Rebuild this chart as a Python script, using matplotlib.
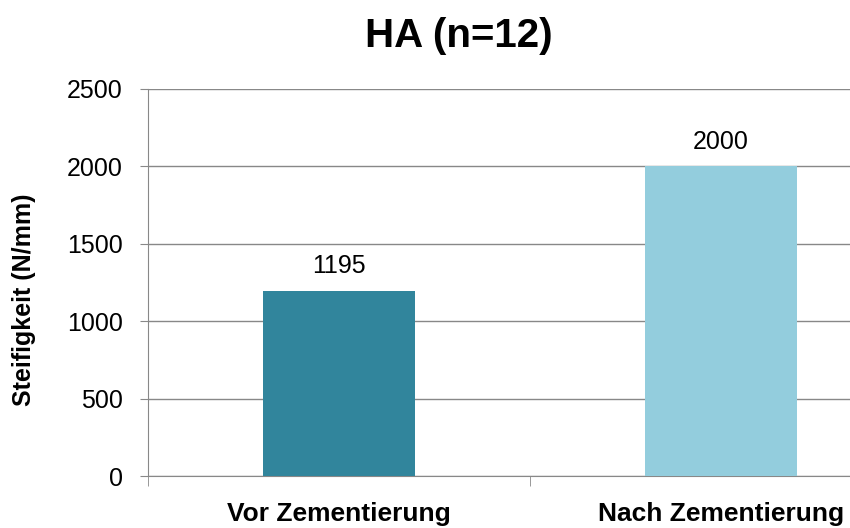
import matplotlib
matplotlib.use("Agg")
import matplotlib.pyplot as plt
import matplotlib.transforms as mtransforms

categories = ["Vor Zementierung", "Nach Zementierung"]
values = [1195, 2000]
colors = ["#31859C", "#93CDDD"]
yticks = [0, 500, 1000, 1500, 2000, 2500]
title = "HA (n=12)"
ylabel = "Steifigkeit (N/mm)"

W, H = 850, 528
fig = plt.figure(figsize=(W / 100, H / 100), dpi=100)
plt.rcParams['font.family'] = ['Liberation Sans', 'DejaVu Sans']
ax = fig.add_axes([148 / W, (H - 476) / H, 764 / W, (476 - 89) / H])

x = list(range(len(categories)))
ax.bar(x, values, width=0.4, color=colors, zorder=3)
for xi, v in zip(x, values):
    ax.text(xi, v + 115, f"{v}", ha="center", va="baseline", fontsize=18, color="#000000")

ax.set_xlim(-0.5, len(categories) - 0.5)
ax.set_ylim(0, 2500)
ax.set_yticks(yticks)
ax.set_yticklabels([str(t) for t in yticks], fontsize=18)
ax.grid(axis="y", color="#888888", linewidth=1, zorder=0)

ax.set_xticks(x)
ax.set_xticklabels([])
ax.tick_params(axis="x", which="major", length=0)
ax.set_xticks([i - 0.5 for i in range(len(categories) + 1)], minor=True)
ax.tick_params(axis="x", which="minor", length=7, color="#888888", direction="out")
ax.tick_params(axis="y", length=6, color="#888888", direction="out", pad=12)

trans = mtransforms.blended_transform_factory(ax.transData, fig.transFigure)
for xi, lab in zip(x, categories):
    ax.text(xi, 1 - 521 / H, lab, transform=trans, ha="center", va="baseline",
            fontsize=19, fontweight="bold", clip_on=False)

for s in ["top", "right"]:
    ax.spines[s].set_visible(False)
for s in ["left", "bottom"]:
    ax.spines[s].set_color("#888888")

fig.text(24 / W, 1 - 300 / H, ylabel, rotation=90, ha="center", va="center",
         fontsize=18, fontweight="bold")
fig.text(459 / W, 1 - 47 / H, title, ha="center", va="baseline", fontsize=29, fontweight="bold")

fig.savefig("out.png", dpi=100)
